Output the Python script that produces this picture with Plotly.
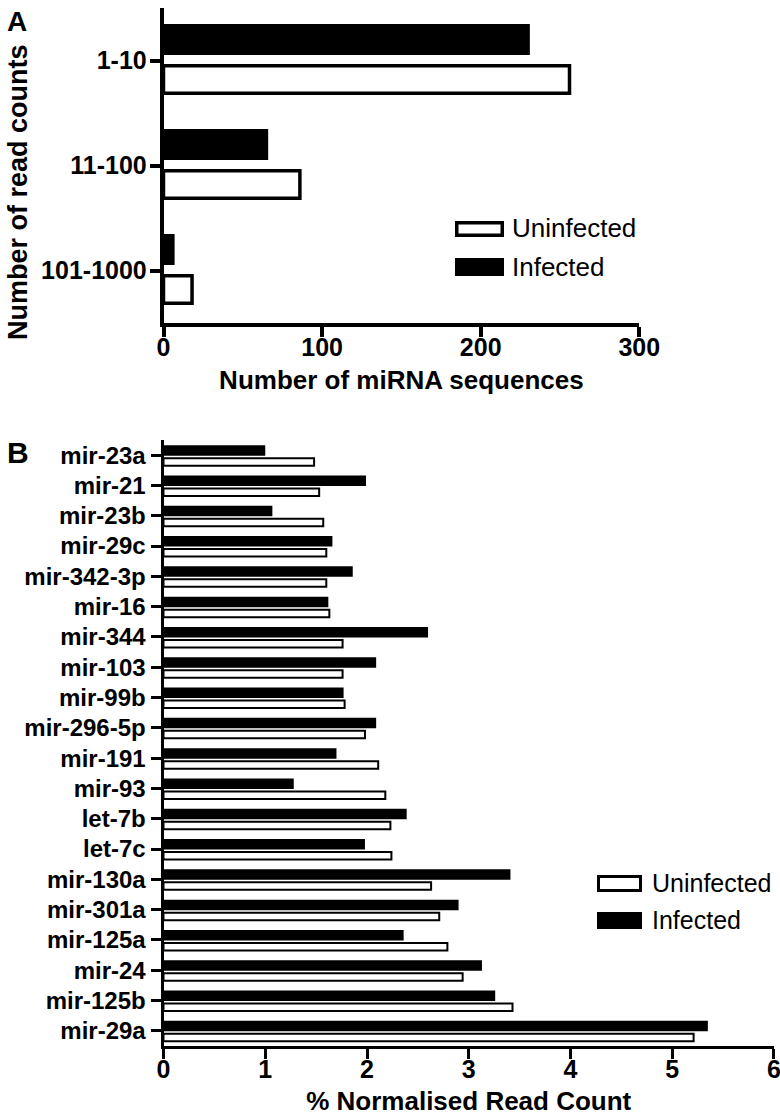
import plotly.graph_objects as go

# ---------------- data ----------------
read_bins = ["1-10", "11-100", "101-1000"]
infected_A = [231, 66, 7]
uninfected_A = [256, 86, 18]

mirnas = ["mir-23a", "mir-21", "mir-23b", "mir-29c", "mir-342-3p", "mir-16",
          "mir-344", "mir-103", "mir-99b", "mir-296-5p", "mir-191", "mir-93",
          "let-7b", "let-7c", "mir-130a", "mir-301a", "mir-125a", "mir-24",
          "mir-125b", "mir-29a"]
infected_B = [1.00, 1.99, 1.07, 1.66, 1.86, 1.62, 2.60, 2.09, 1.77, 2.09,
              1.70, 1.28, 2.39, 1.98, 3.41, 2.90, 2.36, 3.13, 3.26, 5.35]
uninfected_B = [1.48, 1.53, 1.57, 1.60, 1.60, 1.63, 1.76, 1.76, 1.78, 1.98,
                2.11, 2.18, 2.23, 2.24, 2.63, 2.71, 2.79, 2.94, 3.43, 5.21]

xticks_A = [0, 100, 200, 300]
xticks_B = [0, 1, 2, 3, 4, 5, 6]

# ---------------- layout helpers ----------------
W, H = 780, 1116
FONT = "Arial, Liberation Sans, Helvetica, sans-serif"


def px(x):
    return x / W


def py(y):
    return 1 - y / H


fig = go.Figure()

# Panel A
fig.add_trace(go.Bar(y=read_bins, x=infected_A, orientation="h", name="Infected",
                     marker=dict(color="black", line=dict(width=0)),
                     offset=-0.3476, width=0.2952, xaxis="x", yaxis="y",
                     showlegend=False))
fig.add_trace(go.Bar(y=read_bins, x=uninfected_A, orientation="h", name="Uninfected",
                     marker=dict(color="white", line=dict(color="black", width=3.5)),
                     offset=0.05, width=0.2619, xaxis="x", yaxis="y",
                     showlegend=False))

# Panel B
fig.add_trace(go.Bar(y=mirnas, x=infected_B, orientation="h", name="Infected",
                     marker=dict(color="black", line=dict(width=0)),
                     offset=-0.33, width=0.346, xaxis="x2", yaxis="y2",
                     showlegend=False))
fig.add_trace(go.Bar(y=mirnas, x=uninfected_B, orientation="h", name="Uninfected",
                     marker=dict(color="white", line=dict(color="black", width=2)),
                     offset=0.099, width=0.247, xaxis="x2", yaxis="y2",
                     showlegend=False))

axis_common = dict(showline=True, linecolor="black", ticks="outside",
                   tickcolor="black", showgrid=False, zeroline=False,
                   automargin=False, ticklabeloverflow="allow")

fig.update_layout(
    width=W, height=H,
    margin=dict(l=0, r=0, t=0, b=0),
    paper_bgcolor="white", plot_bgcolor="white",
    barmode="overlay",
    showlegend=False,
    font=dict(family=FONT, color="black"),
    xaxis=dict(domain=[px(163.5), px(639.3)], range=[0, 300.01], anchor="y",
               tickvals=xticks_A, linewidth=3.5, tickwidth=3.5, ticklen=10,
               tickfont=dict(size=25, weight="bold"), ticklabelstandoff=-11,
               title=dict(text="Number of miRNA sequences",
                          font=dict(size=26, weight="bold"), standoff=12),
               **axis_common),
    yaxis=dict(domain=[py(323), py(8)], anchor="x", type="category",
               categoryorder="array", categoryarray=read_bins,
               autorange="reversed", linewidth=3.5, tickwidth=3.5, ticklen=10,
               tickfont=dict(size=25, weight="bold"), ticklabelstandoff=-2,
               **axis_common),
    xaxis2=dict(domain=[px(163.5), px(774)], range=[0, 6.0001], anchor="y2",
                tickvals=xticks_B, linewidth=3, tickwidth=3, ticklen=10,
                tickfont=dict(size=25, weight="bold"), ticklabelstandoff=-11,
                title=dict(text="% Normalised Read Count",
                           font=dict(size=26, weight="bold"), standoff=17),
                **axis_common),
    yaxis2=dict(domain=[py(1046), py(440)], anchor="x2", type="category",
                categoryorder="array", categoryarray=mirnas,
                autorange="reversed", linewidth=3, tickwidth=3, ticklen=10,
                tickfont=dict(size=24, weight="bold"),
                **axis_common),
)

annotations = [
    dict(text="A", x=px(16.5), y=py(21.5), font=dict(size=28, weight="bold")),
    dict(text="B", x=px(17.5), y=py(452.5), font=dict(size=30, weight="bold")),
    dict(text="Number of read counts", x=px(18), y=py(192), textangle=-90,
         font=dict(size=27, weight="bold")),
    # legend A
    dict(text="Uninfected", x=px(510), y=py(228), xanchor="left",
         font=dict(size=26)),
    dict(text="Infected", x=px(510), y=py(267), xanchor="left",
         font=dict(size=26)),
    # legend B
    dict(text="Uninfected", x=px(650), y=py(883), xanchor="left",
         font=dict(size=25)),
    dict(text="Infected", x=px(650), y=py(920), xanchor="left",
         font=dict(size=25)),
]
for a in annotations:
    a.setdefault("xanchor", "center")
    a.update(xref="paper", yref="paper", yanchor="middle", showarrow=False)
fig.update_layout(annotations=annotations)

shapes = [
    # legend A
    dict(type="rect", x0=px(456.75), x1=px(502.25), y0=py(235.25), y1=py(222.75),
         fillcolor="white", line=dict(color="black", width=3.5)),
    dict(type="rect", x0=px(455), x1=px(504), y0=py(276), y1=py(258),
         fillcolor="black", line=dict(width=0)),
    # legend B
    dict(type="rect", x0=px(598.5), x1=px(640.5), y0=py(890.5), y1=py(876.5),
         fillcolor="white", line=dict(color="black", width=3)),
    dict(type="rect", x0=px(597), x1=px(642), y0=py(929), y1=py(912),
         fillcolor="black", line=dict(width=0)),
]
for s in shapes:
    s.update(xref="paper", yref="paper")
fig.update_layout(shapes=shapes)

fig.write_html("out.html", config={"displayModeBar": False},
               post_script="document.body.style.margin='0';")
